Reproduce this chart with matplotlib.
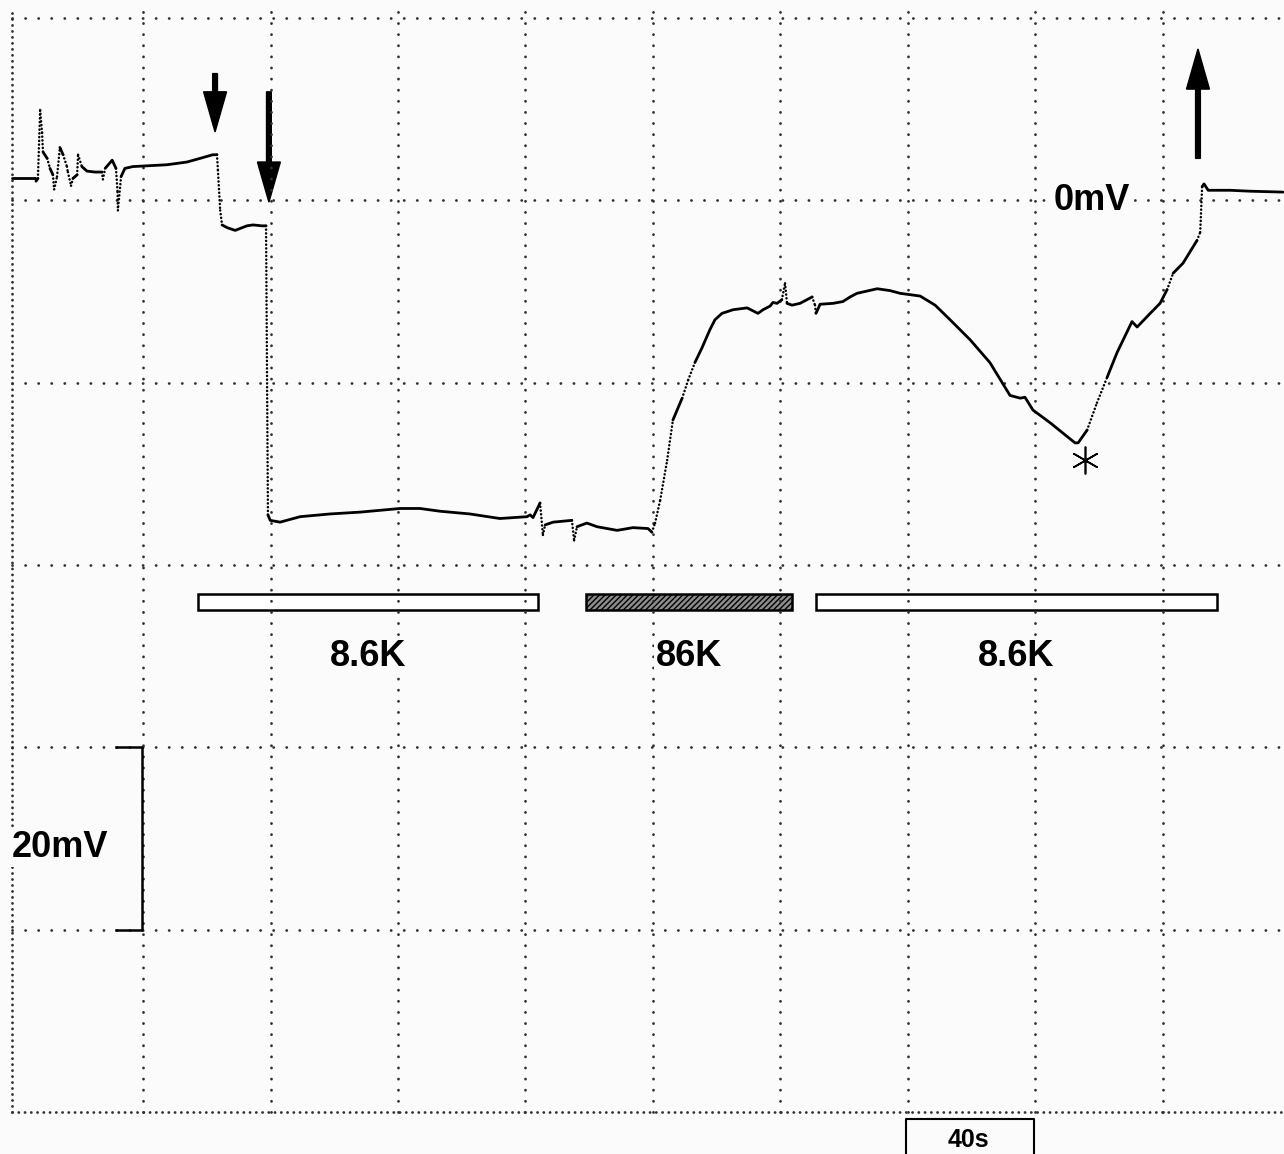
import numpy as np
import matplotlib
matplotlib.use('Agg')
import matplotlib.pyplot as plt
from matplotlib.patches import Rectangle

# membrane potential recording: time (s) and potential (mV)
time_s = [-1.0, 6.1, 6.4, 7.0, 7.7, 8.3, 8.6, 9.9, 10.8, 11.7, 12.1, 13.0, 13.9, 14.9,
          16.1, 16.4, 17.4, 18.0, 19.3, 19.6, 20.8, 22.4, 24.9, 27.1, 27.4, 28.1, 30.3,
          31.5, 32.0, 32.1, 33.1, 34.3, 36.8, 47.5, 53.8, 57.9, 61.9, 63.2, 63.5, 64.2,
          64.8, 66.4, 68.9, 72.6, 74.5, 77.3, 78.6, 79.2, 79.9, 83.0, 89.3, 98.7, 108.1,
          120.7, 126.9, 133.2, 142.6, 152.0, 160.5, 161.5, 162.4, 164.6, 165.5, 166.2,
          168.7, 174.6, 175.3, 176.2, 179.3, 182.5, 188.8, 193.8, 198.5, 199.7, 200.7,
          202.3, 204.5, 206.3, 209.2, 211.1, 213.2, 215.4, 217.9, 219.5, 221.7, 225.2,
          229.6, 233.0, 234.6, 236.8, 237.7, 239.0, 240.5, 241.5, 242.1, 243.7, 246.2,
          250.0, 250.9, 251.2, 252.5, 256.6, 259.7, 261.9, 264.1, 270.4, 274.4, 277.6,
          283.9, 288.6, 293.3, 299.6, 305.8, 312.1, 315.3, 316.8, 319.3, 324.7, 332.5,
          333.5, 336.3, 339.4, 342.6, 345.7, 350.4, 352.0, 356.1, 359.2, 361.4, 363.3,
          366.4, 370.8, 371.8, 372.4, 373.0, 374.3, 381.2, 387.4, 397.8]
vm_mv = [2.4, 2.4, 2.1, 2.4, 9.9, 7.4, 5.3, 4.6, 3.5, 2.8, 1.2, 2.6, 5.8, 5.0,
         3.7, 3.1, 1.6, 2.4, 2.8, 5.0, 3.7, 3.2, 3.1, 3.1, 2.3, 3.5, 4.4,
         3.5, 0.9, -1.1, 2.6, 3.5, 3.7, 3.9, 4.2, 4.6, 5.0, 5.0, 3.3, -1.1,
         -2.7, -3.0, -3.3, -2.8, -2.7, -2.8, -2.8, -34.5, -35.1, -35.3, -34.7, -34.4, -34.2,
         -33.8, -33.8, -34.1, -34.4, -34.9, -34.7, -34.5, -34.8, -33.2, -36.7, -35.6,
         -35.3, -35.1, -37.3, -35.8, -35.4, -35.8, -36.2, -35.9, -36.0, -36.4, -35.4,
         -32.9, -28.5, -24.1, -21.7, -19.7, -17.8, -16.2, -14.2, -13.1, -12.4, -12.0,
         -11.8, -12.4, -12.0, -11.6, -11.2, -11.3, -10.9, -9.1, -11.3, -11.5, -11.3,
         -10.6, -11.5, -12.4, -11.4, -11.3, -11.1, -10.6, -10.2, -9.7, -9.9, -10.2,
         -10.5, -11.5, -13.1, -15.3, -17.8, -21.4, -21.7, -21.6, -23.0, -24.4, -26.6,
         -26.6, -25.2, -22.2, -19.4, -16.7, -13.3, -13.9, -12.4, -11.3, -9.8, -8.0,
         -6.9, -4.4, -3.5, 1.5, 1.8, 1.1, 1.1, 1.0, 0.9]

# bath solution periods (s)
period_start = [57.3, 179.0, 251.2]
period_end = [164.0, 243.7, 377.1]
period_label = ['8.6K', '86K', '8.6K']
period_hatched = [False, True, False]

# event arrows: time (s), tail and tip (mV)
arrow_t = [62.6, 79.5, 371.1]
arrow_tail = [13.9, 11.9, 4.6]
arrow_tip = [7.5, -0.2, 16.6]

star_t = [335.7]
star_mv = [-28.5]

plt.rcParams['lines.scale_dashes'] = False
plt.rcParams['font.family'] = ['Liberation Sans', 'DejaVu Sans']
plt.rcParams['font.weight'] = 'bold'

bg = '#fbfbfb'
fig = plt.figure(figsize=(12.84, 11.54), dpi=100, facecolor=bg)
ax = fig.add_axes([0, 0, 1, 1])
ax.set_xlim(-4.9, 398.1)
ax.set_ylim(-104.6, 21.97)
ax.axis('off')

# dotted screen grid
dot = '#303030'
for t in range(40, 400, 40):
    ax.plot([t, t], [-100, 21.5], color=dot, lw=2.0, dashes=(0.1, 7.9), dash_capstyle='round')
for v in range(-80, 21, 20):
    ax.plot([-1.1, 398.1], [v, v], color=dot, lw=2.0, dashes=(0.1, 9.3), dash_capstyle='round')
ax.plot([-1.1, -1.1], [-100, 20.8], color=dot, lw=2.0, dashes=(0.1, 4.2), dash_capstyle='round')
ax.plot([-1.1, 398.1], [-100, -100], color=dot, lw=2.0, dashes=(0.1, 4.4), dash_capstyle='round')

# trace: slow parts solid, fast jumps dotted
t = np.array(time_s)
v = np.array(vm_mv)
pix = ax.transData.transform(np.column_stack([t, v]))
d = np.diff(pix, axis=0)
steep = np.abs(d[:, 1]) > 2.5 * np.abs(d[:, 0])
run = [0]
for i in range(len(steep)):
    if steep[i]:
        if len(run) > 1:
            ax.plot(t[run], v[run], color='k', lw=2.0, solid_joinstyle='round', solid_capstyle='round')
        ax.plot(t[i:i + 2], v[i:i + 2], color='k', lw=1.8, dashes=(0.1, 2.6), dash_capstyle='round')
        run = [i + 1]
    else:
        run.append(i + 1)
if len(run) > 1:
    ax.plot(t[run], v[run], color='k', lw=2.0, solid_joinstyle='round', solid_capstyle='round')

ax.plot(star_t, star_mv, marker=(6, 2, 0), ms=20, mew=1.2, color='k', ls='none')

for ta, a, b in zip(arrow_t, arrow_tail, arrow_tip):
    ax.arrow(ta, a, 0, b - a, width=1.5, head_width=7.2, head_length=4.4,
             length_includes_head=True, fc='k', ec='k')

label_box = dict(facecolor=bg, edgecolor='none', pad=1)
for s, e, lab, h in zip(period_start, period_end, period_label, period_hatched):
    ax.add_patch(Rectangle((s, -44.9), e - s, 1.75, facecolor='#8c8c8c' if h else 'white',
                           edgecolor='k', lw=1.8, hatch='//////' if h else None))
    ax.text((s + e) / 2, -50.0, lab, ha='center', va='center', fontsize=26,
            fontweight='bold', bbox=label_box)

ax.text(337.9, 0.0, '0mV', ha='center', va='center', fontsize=26, fontweight='bold',
        bbox=label_box)

# scale bars
ax.plot([31.5, 39.7, 39.7, 31.5], [-60, -60, -80, -80], color='k', lw=1.8)
ax.text(-1.1, -71.0, '20mV', ha='left', va='center', fontsize=26, fontweight='bold',
        bbox=label_box)
ax.plot([279.5, 279.5, 319.5, 319.5], [-104.6, -100.8, -100.8, -104.6], color='k', lw=1.5,
        clip_on=False)
ax.text(299.0, -103.1, '40s', ha='center', va='center', fontsize=18, fontweight='bold')

plt.savefig('out.png', dpi=100, facecolor=fig.get_facecolor())
